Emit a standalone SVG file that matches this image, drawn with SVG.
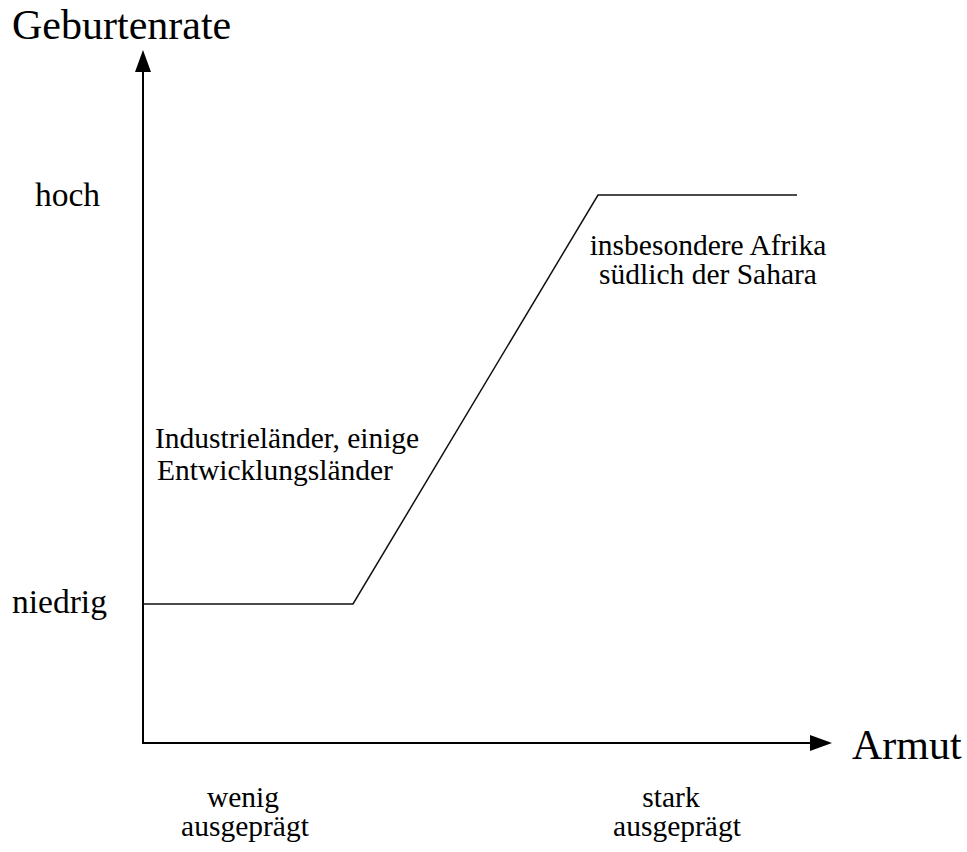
<svg xmlns="http://www.w3.org/2000/svg" width="967" height="852" viewBox="0 0 967 852">
<style>
text{font-family:"Liberation Serif","Times New Roman",serif;fill:#000}
.big{font-size:42px}
.mid{font-size:33.5px}
.sm{font-size:29.5px}
.ax{stroke:#000;stroke-width:2;fill:none}
.cv{stroke:#111;stroke-width:1.5;fill:none}
</style>
<rect width="967" height="852" fill="#fff"/>
<g id="connectors">
<line class="ax" x1="143" y1="744" x2="143" y2="70"/>
<polygon points="143,50 135,72 151,72" fill="#000"/>
<line class="ax" x1="142" y1="743" x2="814" y2="743" stroke-width="1.6"/>
<polygon points="832,743 810,735 810,751" fill="#000"/>
<polyline class="cv" points="143,604 353,604 598,195 797,195"/>
</g>
<g id="axis-y-label"><text class="big" x="12" y="39">Geburtenrate</text></g>
<g id="axis-x-label"><text class="big" x="852" y="759">Armut</text></g>
<g id="label-hoch"><text class="mid" x="35" y="206">hoch</text></g>
<g id="label-niedrig"><text class="mid" x="12" y="613">niedrig</text></g>
<g id="label-industrie">
<text class="sm" x="155" y="448">Industrieländer, einige</text>
<text class="sm" x="157" y="480">Entwicklungsländer</text>
</g>
<g id="label-afrika">
<text class="sm" x="708" y="255" text-anchor="middle">insbesondere Afrika</text>
<text class="sm" x="708" y="284" text-anchor="middle">südlich der Sahara</text>
</g>
<g id="label-wenig">
<text class="sm" x="243" y="807" text-anchor="middle">wenig</text>
<text class="sm" x="245" y="836" text-anchor="middle">ausgeprägt</text>
</g>
<g id="label-stark">
<text class="sm" x="671" y="807" text-anchor="middle">stark</text>
<text class="sm" x="677" y="836" text-anchor="middle">ausgeprägt</text>
</g>
</svg>
